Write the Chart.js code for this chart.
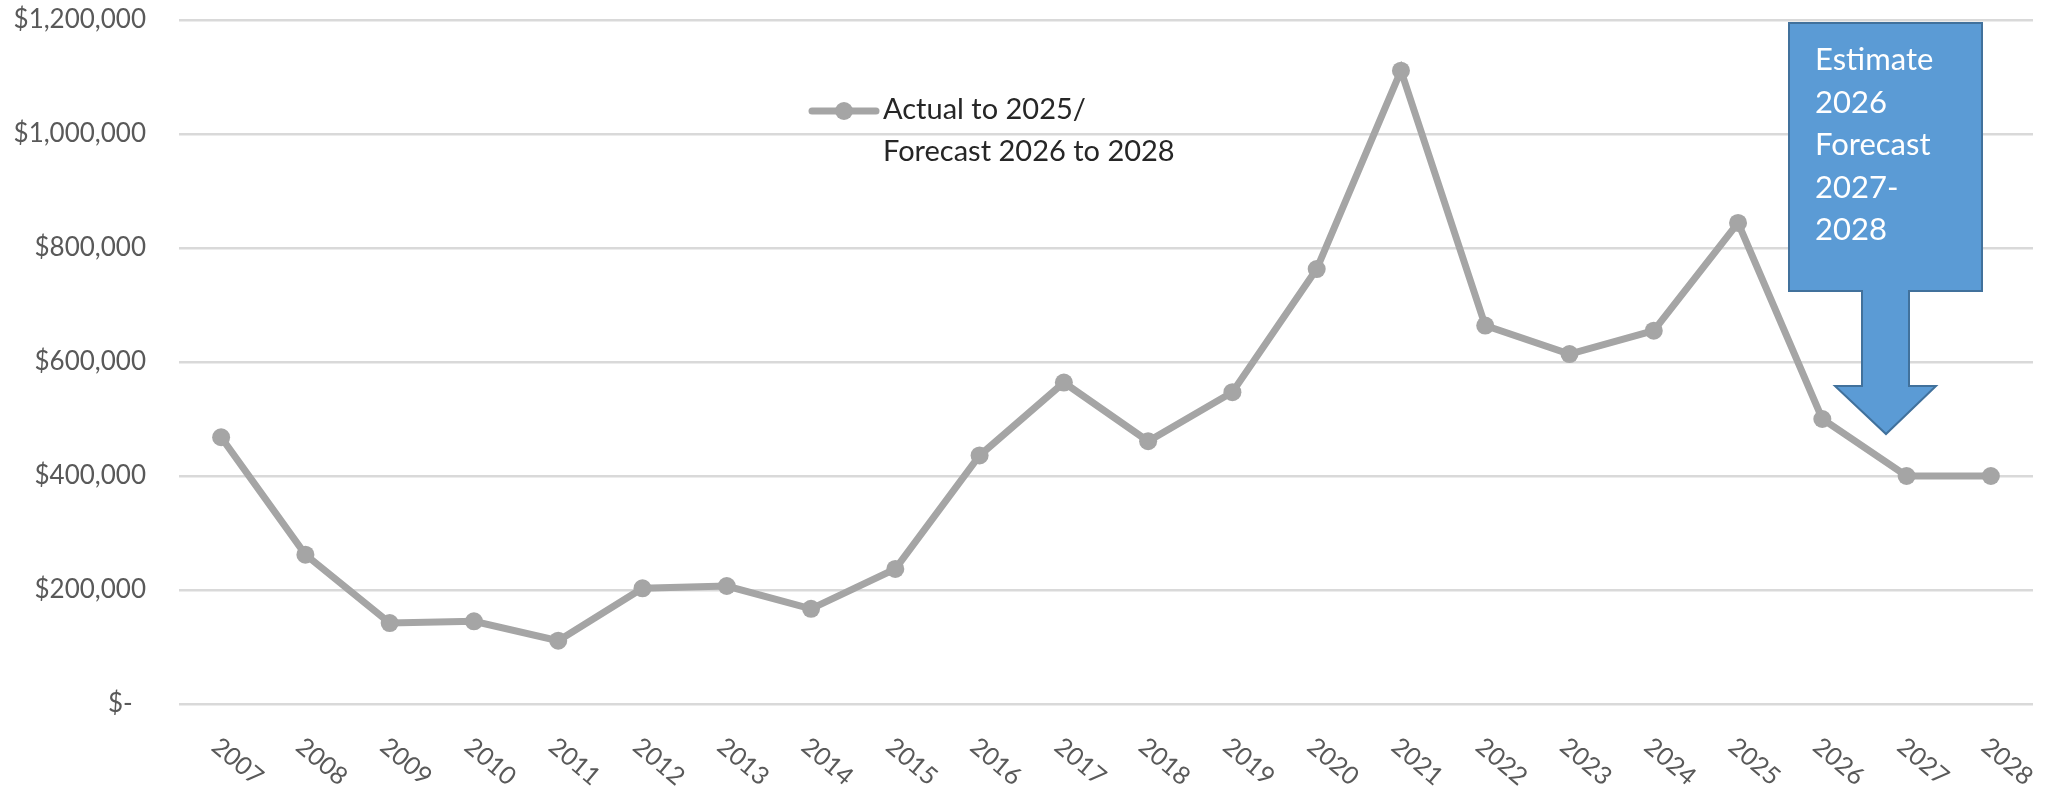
<!DOCTYPE html>
<html>
<head>
<meta charset="utf-8">
<script src="https://cdn.jsdelivr.net/npm/chart.js@4"></script>
<style>
  body { margin: 0; background: #fff; }
  canvas { display: block; }
</style>
</head>
<body>
<canvas id="chart" width="2050" height="789"></canvas>
<script>
const years = ["2007", "2008", "2009", "2010", "2011", "2012", "2013", "2014", "2015", "2016", "2017",
  "2018", "2019", "2020", "2021", "2022", "2023", "2024", "2025", "2026", "2027", "2028"];
const amounts = [468000, 262000, 142000, 145000, 111000, 203000, 207000, 167000, 237000, 436000, 564000,
  461000, 547000, 763000, 1111000, 664000, 614000, 655000, 844000, 500000, 400000, 400000];
const yMax = 1200000;
const yStep = 200000;
const seriesLabel = ["Actual to 2025/", "Forecast 2026 to 2028"];
const calloutText = ["Estimate", "2026", "Forecast", "2027-", "2028"];

const lineGrey = "#A5A5A5";

// draws the rotated year labels, the two-line legend and the blue callout arrow
const extras = {
  id: "extras",
  afterDraw(chart) {
    const ctx = chart.ctx;
    const xs = chart.scales.x;

    // x labels, rotated down to the right
    ctx.save();
    ctx.fillStyle = "#595959";
    ctx.font = "25px Lato";
    ctx.textAlign = "left";
    ctx.textBaseline = "middle";
    chart.data.labels.forEach((lab, i) => {
      const x = xs.getPixelForTick(i);
      ctx.save();
      ctx.translate(x - 6, 743);
      ctx.rotate(40 * Math.PI / 180);
      ctx.fillText(lab, 0, 0);
      ctx.restore();
    });
    ctx.restore();

    // legend
    const ds = chart.data.datasets[0];
    ctx.save();
    ctx.strokeStyle = ds.borderColor;
    ctx.lineWidth = ds.borderWidth;
    ctx.lineCap = "round";
    ctx.beginPath();
    ctx.moveTo(812, 111);
    ctx.lineTo(876, 111);
    ctx.stroke();
    ctx.fillStyle = ds.pointBackgroundColor;
    ctx.beginPath();
    ctx.arc(844, 111, 9, 0, Math.PI * 2);
    ctx.fill();
    ctx.fillStyle = "#262626";
    ctx.font = "29px Lato";
    ctx.textAlign = "left";
    ctx.textBaseline = "middle";
    ds.label.forEach((t, i) => ctx.fillText(t, 883, 110 + i * 42));
    ctx.restore();

    // callout arrow
    ctx.save();
    ctx.fillStyle = "#5B9BD5";
    ctx.strokeStyle = "#41719C";
    ctx.lineWidth = 2;
    ctx.beginPath();
    ctx.moveTo(1789, 23);
    ctx.lineTo(1982, 23);
    ctx.lineTo(1982, 291);
    ctx.lineTo(1909, 291);
    ctx.lineTo(1909, 386);
    ctx.lineTo(1936, 386);
    ctx.lineTo(1886, 434);
    ctx.lineTo(1835, 386);
    ctx.lineTo(1862, 386);
    ctx.lineTo(1862, 291);
    ctx.lineTo(1789, 291);
    ctx.closePath();
    ctx.fill();
    ctx.stroke();
    ctx.fillStyle = "#ffffff";
    ctx.font = "31px Lato";
    ctx.textAlign = "left";
    ctx.textBaseline = "middle";
    calloutText.forEach((t, i) => ctx.fillText(t, 1815, 60 + i * 42.5));
    ctx.restore();
  }
};

new Chart(document.getElementById("chart"), {
  type: "line",
  data: {
    labels: years,
    datasets: [
      {
        label: seriesLabel,
        data: amounts,
        borderColor: lineGrey,
        backgroundColor: lineGrey,
        pointBackgroundColor: lineGrey,
        pointBorderWidth: 0,
        pointRadius: 9,
        borderWidth: 7,
        tension: 0,
      },
    ],
  },
  options: {
    responsive: false,
    devicePixelRatio: 1,
    animation: false,
    layout: { padding: { top: 20, right: 17, left: 0, bottom: 0 } },
    plugins: {
      legend: { display: false },
      tooltip: { enabled: false },
      title: { display: false },
    },
    scales: {
      x: {
        offset: true,
        grid: { display: false },
        border: { display: false },
        ticks: { display: false },
        afterFit(scale) {
          scale.height = 85;
          scale.paddingLeft = 0;
          scale.paddingRight = 0;
        },
      },
      y: {
        min: 0,
        max: yMax,
        grid: { color: "#D9D9D9", lineWidth: 2.5, drawTicks: false },
        border: { display: false },
        ticks: {
          stepSize: yStep,
          padding: 33,
          color: "#595959",
          font: { family: "Lato", size: 26 },
          callback: (v) => (v === 0 ? "$-  " : "$" + v.toLocaleString("en-US")),
        },
        afterFit(scale) {
          scale.width = 179;
          scale.paddingTop = 0;
          scale.paddingBottom = 0;
        },
      },
    },
  },
  plugins: [extras],
});
</script>
</body>
</html>
